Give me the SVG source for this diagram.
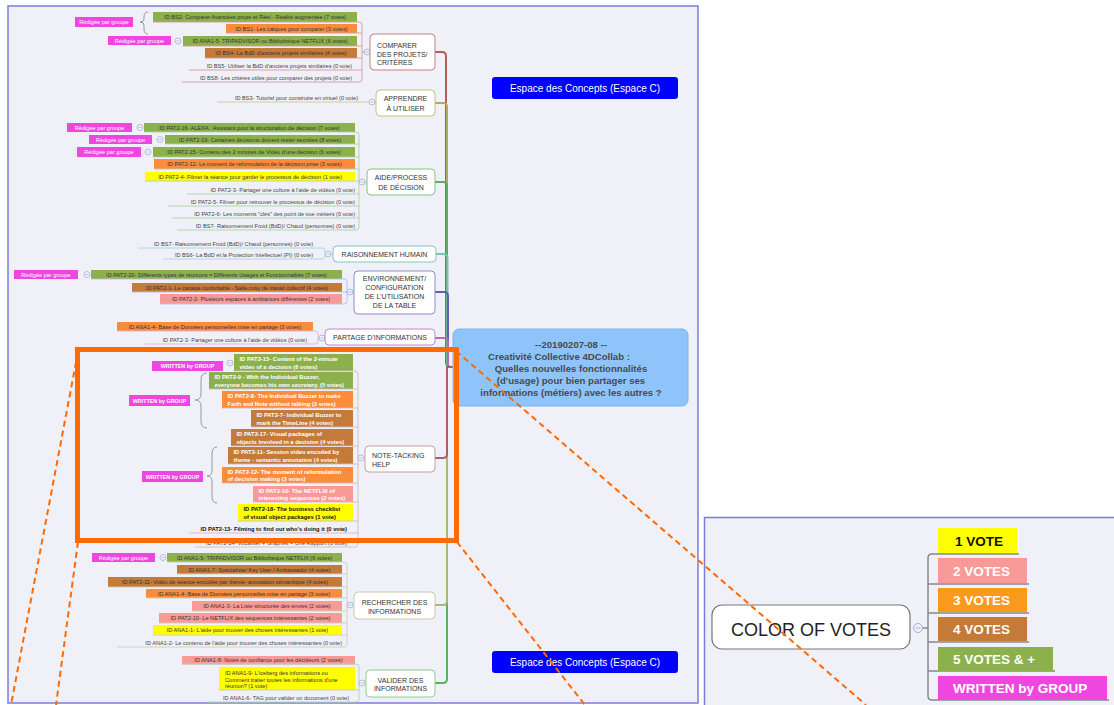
<svg xmlns="http://www.w3.org/2000/svg" width="1114" height="705" viewBox="0 0 1114 705">
<style>
text{font-family:"Liberation Sans",Arial,Helvetica,sans-serif}
.pn{fill:#f0f0f8;stroke:#7c7cdc;stroke-width:1.5}
.it{font-size:5.6px;fill:#333;text-anchor:middle}
.pl{font-size:5.6px;fill:#444;text-anchor:end}
.rt{font-size:5.6px;fill:#fff;text-anchor:middle}
.wt{font-size:5.8px;fill:#fff;font-weight:bold}
.wk{font-size:5.8px;fill:#111;font-weight:bold}
.wl{font-size:5.4px;fill:#fff;font-weight:bold;text-anchor:middle}
.g{fill:#8cb04c}.o{fill:#fa8c3c}.b{fill:#c47a38}.p{fill:#fa9a98}.y{fill:#ffff00}.m{fill:#ee46de}
.cn{fill:none;stroke-width:0.9}
.br{fill:none;stroke-width:2}
.nd{fill:#fff;stroke-width:1}
.ct{font-size:7px;fill:#333}
.cc{text-anchor:middle}
.ls{text-anchor:start}
.brace{fill:none;stroke:#999;stroke-width:1}
.ec{fill:#0000fe}
.et{font-size:10px;fill:#fff;text-anchor:middle}
.cen{font-size:9.6px;font-weight:bold;fill:#4a4a4a;text-anchor:middle}
.lg{font-size:13.5px;font-weight:bold;fill:#fff}
.dash{fill:none;stroke:#ff6a00;stroke-width:2;stroke-dasharray:6 4}
</style>
<defs>
<g id="cc"><circle r="3" fill="#f0f0f8" stroke="#a6b0d8" stroke-width="0.8"/><path d="M-1.6 0h3.2" stroke="#a6b0d8" stroke-width="0.7"/></g>
</defs>

<rect width="1114" height="705" fill="#fff"/>
<rect class="pn" x="8" y="6" width="690" height="697"/>
<rect class="pn" x="704.5" y="517.5" width="420" height="200"/>

<!-- main branches from the central topic -->
<g id="branches">
<path class="br" stroke="#b65a5a" d="M435,52H442Q446,52 446,56V362Q446,367 451,367H453"/>
<path class="br" stroke="#b3aa62" d="M435,103H443Q447,103 447,107V362Q447,367 452,367H453"/>
<path class="br" stroke="#5fae5f" d="M435,182H443Q447,182 447,186V367H453"/>
<path class="br" stroke="#78c0b8" d="M436,254H443Q447.5,254 447.5,258V367H453"/>
<path class="br" stroke="#5f5fb8" d="M435,292H444Q448,292 448,296V367H453"/>
<path class="br" stroke="#b868b8" d="M435,338H444Q448,338 448,342V367H453"/>
<path class="br" stroke="#5fae5f" d="M435,683H443Q447,683 447,679V367H453"/>
<path class="br" stroke="#a8b878" d="M435,605H443Q447,605 447,601V367H453"/>
<path class="br" stroke="#a86060" d="M435,458H443Q447,458 447,454V367H453"/>
</g>

<!-- COMPARER DES PROJETS -->
<g id="comparer">
<rect class="m" x="75" y="17" width="58" height="10"/><text class="rt" x="104" y="24">Rédigée par groupe</text>
<path class="brace" d="M148,12Q144,12 144,17V19Q144,22 140,22Q144,22 144,25V29Q144,34 148,34"/>
<rect class="m" x="108" y="36" width="63" height="9"/><text class="rt" x="139.5" y="42.5">Rédigée par groupe</text>
<rect class="g" x="153" y="12" width="204" height="10"/><text class="it" x="255" y="19.2">ID BS2- Comparer Avancées projet et Réel - Réalité augmentée (7 votes)</text>
<rect class="o" x="226" y="24" width="131" height="9"/><text class="it" x="291.5" y="30.8">ID BS1- Les calques pour comparer (3 votes)</text>
<rect class="g" x="183" y="36" width="174" height="10"/><text class="it" x="270" y="43.2">ID ANA1-5- TRIPADVISOR ou Bibliothèque NETFLIX (6 votes)</text>
<rect class="b" x="205" y="48" width="152" height="10"/><text class="it" x="281" y="55.2">ID BS4- La BdD d'anciens projets similaires (4 votes)</text>
<text class="pl" x="352" y="68">ID BS5- Utiliser la BdD d'anciens projets similaires (0 vote)</text>
<text class="pl" x="352" y="80">ID BS8- Les critères utiles pour comparer des projets (0 vote)</text>
<path class="cn" stroke="#d49a9a" d="M153,22H359Q362,22 362,25V79Q362,82 359,82H182M226,33H362M183,46H362M205,58H362M189,70H362M362,52H370"/>
<use href="#cc" x="178" y="41"/><use href="#cc" x="367" y="52"/>
<rect class="nd" stroke="#c98080" x="370" y="34" width="65" height="36" rx="4"/>
<text class="ct" x="377" y="48">COMPARER</text><text class="ct" x="377" y="56.5">DES PROJETS/</text><text class="ct" x="377" y="65">CRITÈRES</text>
</g>

<!-- APPRENDRE A UTILISER -->
<g id="apprendre">
<text class="pl" x="358" y="100">ID BS3- Tutoriel pour construire en virtuel (0 vote)</text>
<path class="cn" stroke="#cfc79a" d="M217,102H376"/>
<use href="#cc" x="372" y="102"/>
<rect class="nd" stroke="#c8bf84" x="376" y="90" width="59" height="26" rx="4"/>
<text class="ct cc" x="405.5" y="100.5">APPRENDRE</text><text class="ct cc" x="405.5" y="110.5">À UTILISER</text>
</g>

<!-- AIDE / PROCESS DE DECISION -->
<g id="aide">
<rect class="m" x="67" y="123" width="65" height="9"/><text class="rt" x="99.5" y="129.6">Rédigée par groupe</text>
<rect class="m" x="89" y="135" width="63" height="9"/><text class="rt" x="120.5" y="141.6">Rédigée par groupe</text>
<rect class="m" x="77" y="147" width="64" height="10"/><text class="rt" x="109" y="154">Rédigée par groupe</text>
<rect class="g" x="144" y="123" width="211" height="9"/><text class="it" x="249.5" y="129.8">ID PAT2-16-  ALEXA : Assistant pour la structuration de décision (7 votes)</text>
<rect class="g" x="165" y="135" width="190" height="9"/><text class="it" x="260" y="141.8">ID PAT2-19-  Certaines décisions doivent rester secrètes (8 votes)</text>
<rect class="g" x="153" y="147" width="202" height="10"/><text class="it" x="254" y="154.2">ID PAT2-15-  Contenu des 2 minutes de Vidéo d'une décision (6 votes)</text>
<rect class="o" x="154" y="159" width="201" height="10"/><text class="it" x="254.5" y="166.2">ID PAT2-12- Le moment de reformulation de la décision prise (3 votes)</text>
<rect class="y" x="145" y="172" width="210" height="9"/><text class="it" x="250" y="178.8">ID PAT2-4- Filmer la séance pour garder le processus de décision (1 vote)</text>
<text class="pl" x="355" y="191.5">ID PAT2-3- Partager une culture à l'aide de vidéos (0 vote)</text>
<text class="pl" x="355" y="203.5">ID PAT2-5- Filmer pour retrouver le processus de décision (0 vote)</text>
<text class="pl" x="355" y="215.5">ID PAT2-6- Les moments "clés" des point de vue métiers (0 vote)</text>
<text class="pl" x="355" y="227.5">ID BS7- Raisonnement Froid (BdD)/ Chaud (personnes) (0 vote)</text>
<path class="cn" stroke="#a8d4a8" d="M144,132H356Q359,132 359,135V227Q359,230 356,230H177M165,144H359M153,157H359M154,169H359M145,181H359M187,194H359M168,206H359M172,218H359M359,182H367"/>
<use href="#cc" x="140" y="127.5"/><use href="#cc" x="160" y="139.5"/><use href="#cc" x="148" y="152"/><use href="#cc" x="362" y="182"/>
<rect class="nd" stroke="#84c484" x="367" y="169" width="68" height="26" rx="4"/>
<text class="ct cc" x="401" y="179.5">AIDE/PROCESS</text><text class="ct cc" x="401" y="189.5">DE DÉCISION</text>
</g>

<!-- RAISONNEMENT HUMAIN -->
<g id="raisonnement">
<text class="pl" x="313" y="245.5">ID BS7- Raisonnement Froid (BdD)/ Chaud (personnes) (0 vote)</text>
<text class="pl" x="313" y="257">ID BS6- La BdD et la Protection Intellectuel (PI) (0 vote)</text>
<path class="cn" stroke="#a6d6d2" d="M138,248H322Q325,248 325,251V256Q325,259 322,259H163M325,254H333"/>
<use href="#cc" x="328" y="254"/>
<rect class="nd" stroke="#86c6c0" x="333" y="246" width="103" height="16" rx="4"/>
<text class="ct cc" x="384.5" y="256.5">RAISONNEMENT HUMAIN</text>
</g>

<!-- ENVIRONNEMENT / CONFIGURATION -->
<g id="environnement">
<rect class="m" x="14" y="270" width="64" height="9"/><text class="rt" x="46" y="276.6">Rédigée par groupe</text>
<rect class="g" x="91" y="270" width="251" height="9"/><text class="it" x="216.5" y="276.8">ID PAT2-20- Différents types de réunions = Différents Usages et Fonctionnalités (7 votes)</text>
<rect class="b" x="132" y="283" width="210" height="9"/><text class="it" x="237" y="289.8">ID PAT2-1- Le canapé confortable - Salle cosy de travail collectif (4 votes)</text>
<rect class="p" x="160" y="294" width="182" height="10"/><text class="it" x="251" y="301.2">ID PAT2-2- Plusieurs espaces à ambiances différentes (2 votes)</text>
<path class="cn" stroke="#bcbce4" d="M91,279H344Q347,279 347,282V301Q347,304 344,304H160M132,292H347M347,292H354"/>
<use href="#cc" x="87" y="274.5"/><use href="#cc" x="350" y="292"/>
<rect class="nd" stroke="#8c8cd0" x="354" y="271" width="81" height="43" rx="4"/>
<text class="ct cc" x="394.5" y="280.5">ENVIRONNEMENT/</text><text class="ct cc" x="394.5" y="289.8">CONFIGURATION</text>
<text class="ct cc" x="394.5" y="299.1">DE L'UTILISATION</text><text class="ct cc" x="394.5" y="308.4">DE LA TABLE</text>
</g>

<!-- PARTAGE D'INFORMATIONS -->
<g id="partage">
<rect class="o" x="117" y="322" width="196" height="9"/><text class="it" x="215" y="328.8">ID ANA1-4- Base de Données personnelles mise en partage (3 votes)</text>
<text class="pl" x="307" y="341.5">ID PAT2-3- Partager une culture à l'aide de vidéos (0 vote)</text>
<path class="cn" stroke="#dcb0dc" d="M117,331H315Q318,331 318,334V341Q318,344 315,344H145M318,338H325"/>
<use href="#cc" x="322" y="338"/>
<rect class="nd" stroke="#c688c6" x="325" y="329" width="110" height="16" rx="4"/>
<text class="ct cc" x="380" y="339.5">PARTAGE D'INFORMATIONS</text>
</g>

<!-- NOTE-TACKING HELP -->
<g id="note-tacking">
<rect class="m" x="152" y="361" width="71" height="10"/><text class="wl" x="187.5" y="368">WRITTEN by GROUP</text>
<path class="brace" d="M207,373Q201,373 201,380V394Q201,400 195,400Q201,400 201,406V421Q201,428 207,428"/>
<rect class="m" x="129" y="395" width="61" height="11"/><text class="wl" x="159.5" y="402.5">WRITTEN by GROUP</text>
<path class="brace" d="M217,447Q212,447 212,454V470Q212,476 207,476Q212,476 212,482V496Q212,503 217,503"/>
<rect class="m" x="142" y="471" width="61" height="11"/><text class="wl" x="172.5" y="478.5">WRITTEN by GROUP</text>
<rect class="g" x="234" y="354" width="119" height="17"/><text class="wt" x="239.5" y="361">ID PAT2-15-  Content of the 2-minute</text><text class="wt" x="239.5" y="368.5">video of a decision (6 votes)</text>
<rect class="g" x="209" y="372" width="144" height="17"/><text class="wt" x="214.5" y="379">ID PAT2-9 - With the Individual Buzzer,</text><text class="wt" x="214.5" y="386.5">everyone becomes his own secretary. (5 votes)</text>
<rect class="o" x="222" y="391" width="131" height="17"/><text class="wt" x="227.5" y="398">ID PAT2-8- The Individual Buzzer to make</text><text class="wt" x="227.5" y="405.5">Faith and Note without talking (3 votes)</text>
<rect class="b" x="251" y="410" width="102" height="17"/><text class="wt" x="256.5" y="417">ID PAT2-7- Individual Buzzer to</text><text class="wt" x="256.5" y="424.5">mark the TimeLine (4 votes)</text>
<rect class="b" x="231" y="429" width="122" height="17"/><text class="wt" x="236.5" y="436">ID PAT2-17- Visual packages of</text><text class="wt" x="236.5" y="443.5">objects involved in a decision (4 votes)</text>
<rect class="b" x="228" y="447" width="125" height="17"/><text class="wt" x="233.5" y="454">ID PAT2-11- Session video encoded by</text><text class="wt" x="233.5" y="461.5">theme - semantic annotation (4 votes)</text>
<rect class="o" x="222" y="467" width="131" height="16"/><text class="wt" x="227.5" y="473.5">ID PAT2-12- The moment of reformulation</text><text class="wt" x="227.5" y="481">of decision making (3 votes)</text>
<rect class="p" x="253" y="486" width="100" height="16"/><text class="wt" x="258.5" y="492.5">ID PAT2-10- The NETFLIX of</text><text class="wt" x="258.5" y="500">interesting sequences (2 votes)</text>
<rect class="y" x="238" y="504" width="115" height="17"/><text class="wk" x="243.5" y="511">ID PAT2-18- The business checklist</text><text class="wk" x="243.5" y="518.5">of visual object packages (1 vote)</text>
<text class="wk" x="347" y="530.5" text-anchor="end">ID PAT2-13- Filming to find out who's doing it (0 vote)</text>
<text class="pl" x="347" y="544.5">ID PAT2-14- Vocaliser + Graphes = Une Rapport (0 vote)</text>
<path class="cn" stroke="#d6b8c0" d="M234,371H355Q358,371 358,374V544Q358,547 355,547H195M209,389H358M222,408H358M251,427H358M231,446H358M228,464H358M222,483H358M253,502H358M238,521H358M189,533H358M358,458H365"/>
<use href="#cc" x="230" y="363"/><use href="#cc" x="361" y="458"/>
<rect class="nd" stroke="#c0a0a0" x="365" y="446" width="70" height="26" rx="4"/>
<text class="ct" x="372" y="457.5">NOTE-TACKING</text><text class="ct" x="372" y="466.5">HELP</text>
</g>

<!-- RECHERCHER DES INFORMATIONS -->
<g id="rechercher">
<rect class="m" x="92" y="553" width="63" height="9"/><text class="rt" x="123.5" y="559.6">Rédigée par groupe</text>
<rect class="g" x="167" y="553" width="175" height="9"/><text class="it" x="254.5" y="559.8">ID ANA1-5- TRIPADVISOR ou Bibliothèque NETFLIX (6 votes)</text>
<rect class="b" x="177" y="565" width="165" height="9"/><text class="it" x="259.5" y="571.8">ID ANA1-7- Spécialiste/ Key User / Ambassador (4 votes)</text>
<rect class="b" x="108" y="577" width="234" height="10"/><text class="it" x="225" y="584.2">ID PAT2-11- Vidéo de séance encodée par thème- annotation sémantique (4 votes)</text>
<rect class="o" x="146" y="589" width="196" height="9"/><text class="it" x="244" y="595.8">ID ANA1-4- Base de Données personnelles mise en partage (3 votes)</text>
<rect class="p" x="192" y="601" width="150" height="10"/><text class="it" x="267" y="608.2">ID ANA1-3- La Liste structurée des envies (2 votes)</text>
<rect class="p" x="159" y="613" width="183" height="10"/><text class="it" x="250.5" y="620.2">ID PAT2-10- Le NETFLIX des séquences intéressantes (2 votes)</text>
<rect class="y" x="153" y="625" width="189" height="10"/><text class="it" x="247.5" y="632.2">ID ANA1-1-  L'aide pour trouver des choses intéressantes (1 vote)</text>
<text class="pl" x="342" y="645">ID ANA1-2- Le contenu de l'aide pour trouver des choses intéressantes (0 vote)</text>
<path class="cn" stroke="#cfcfb8" d="M167,562H344Q347,562 347,565V644Q347,647 344,647H117M177,574H347M108,587H347M146,598H347M192,611H347M159,623H347M153,635H347M347,605H354"/>
<use href="#cc" x="163" y="557.5"/><use href="#cc" x="350" y="605"/>
<rect class="nd" stroke="#c4cca4" x="354" y="592" width="81" height="27" rx="4"/>
<text class="ct cc" x="394.5" y="604.5">RECHERCHER DES</text><text class="ct cc" x="394.5" y="613.5">INFORMATIONS</text>
</g>

<!-- VALIDER DES INFORMATIONS -->
<g id="valider">
<rect class="p" x="182" y="656" width="173" height="8.5"/><text class="it" x="268.5" y="662.3">ID ANA1-8- Notes de confiance pour les décideurs (2 votes)</text>
<rect class="y" x="219" y="667" width="136" height="23"/>
<text class="it ls" x="225" y="674.8">ID ANA1-9-  L'iceberg des informations ou</text>
<text class="it ls" x="225" y="681.6">Comment traiter toutes les informations d'une</text>
<text class="it ls" x="225" y="688.2">réunion? (1 vote)</text>
<text class="pl" x="349" y="700">ID ANA1-6- TAG pour valider un document (0 vote)</text>
<path class="cn" stroke="#a8d8a8" d="M182,664H356Q359,664 359,667V699Q359,702 356,702H207M219,690H359M359,683H366"/>
<use href="#cc" x="362" y="683"/>
<rect class="nd" stroke="#90cc90" x="366" y="670" width="69" height="27" rx="4"/>
<text class="ct cc" x="400.5" y="682.5">VALIDER DES</text><text class="ct cc" x="400.5" y="691">INFORMATIONS</text>
</g>

<!-- central topic -->
<g id="central">
<rect x="453" y="329" width="235" height="77" rx="6" fill="#8ec4fa" stroke="#7eb2e4"/>
<text class="cen" x="571" y="348">--20190207-08 --</text>
<text class="cen" x="559" y="359.5">Creativité Collective 4DCollab :</text>
<text class="cen" x="571" y="372">Quelles nouvelles fonctionnalités</text>
<text class="cen" x="571" y="384">(d'usage) pour bien partager ses</text>
<text class="cen" x="571" y="395.5">informations (métiers) avec les autres ?</text>
</g>

<g id="espace-c-top"><rect class="ec" x="492" y="77" width="186" height="22" rx="3"/><text class="et" x="585" y="91.5">Espace des Concepts (Espace C)</text></g>
<g id="espace-c-bottom"><rect class="ec" x="492" y="651" width="186" height="22" rx="3"/><text class="et" x="585" y="665.5">Espace des Concepts (Espace C)</text></g>

<!-- legend -->
<g id="legend">
<path fill="none" stroke="#888" stroke-width="1.5" d="M928,628H918M1019,554H932Q928,554 928,558V696Q928,700 932,700H1109M928,584H1029M928,613H1029M928,642H1029M928,671H1055"/>
<circle cx="918" cy="628" r="4.5" fill="#f0f0f8" stroke="#a6b0d8"/><path d="M915.5 628h5" stroke="#a6b0d8"/>
<rect x="712" y="605" width="198" height="44" rx="10" fill="#fff" stroke="#777" stroke-width="1.2"/>
<text x="811" y="635.5" font-size="18" fill="#222" text-anchor="middle">COLOR OF VOTES</text>
<rect class="y" x="938" y="528" width="79" height="25"/><text class="lg" x="955" y="545.5" style="fill:#111">1 VOTE</text>
<rect class="p" x="938" y="558" width="89" height="25"/><text class="lg" x="953" y="575.5">2 VOTES</text>
<rect x="938" y="588" width="89" height="24" fill="#fa9a1c"/><text class="lg" x="953" y="605">3 VOTES</text>
<rect class="b" x="938" y="617" width="89" height="24"/><text class="lg" x="953" y="634">4 VOTES</text>
<rect class="g" x="938" y="647" width="115" height="24"/><text class="lg" x="953" y="664">5 VOTES &amp; +</text>
<rect class="m" x="938" y="676" width="169" height="24"/><text class="lg" x="953" y="693">WRITTEN by GROUP</text>
</g>

<!-- zoom frame and projection lines -->
<g id="zoom-frame">
<rect x="77.5" y="349.5" width="379" height="191" fill="none" stroke="#ff6a00" stroke-width="5"/>
<path class="dash" d="M78,352L11,705M78,542L56,705M456,351L866,705M457,542L585,705"/>
</g>
</svg>
